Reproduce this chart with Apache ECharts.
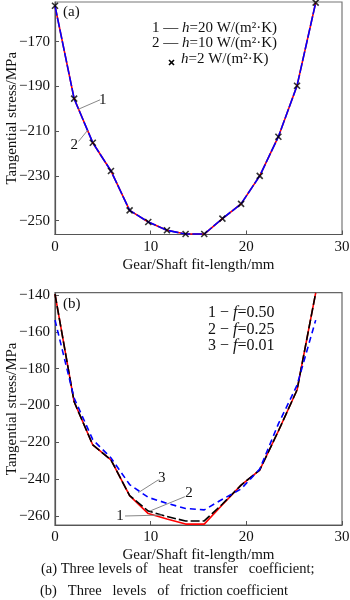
<!DOCTYPE html>
<html>
<head>
<meta charset="utf-8">
<script src="https://cdn.jsdelivr.net/npm/echarts@6/dist/echarts.min.js"></script>
<style>
html, body { margin: 0; padding: 0; background: #fff; }
#chart { width: 350px; height: 600px; }
</style>
</head>
<body>
<div id="chart"></div>
<script>
// (a) tangential stress along the fit length for three heat transfer coefficients
const fitLengthA = [0, 2.0, 3.95, 5.85, 7.8, 9.75, 11.7, 13.65, 15.6, 17.5, 19.45, 21.4, 23.35, 25.3, 27.25];
const stressH20 = [-154, -195.5, -215.2, -227.8, -245.4, -250.6, -254.3, -256, -256, -249.1, -242.5, -230, -212.5, -189.7, -152.6];
const stressH10 = [-154, -195.5, -215.2, -227.8, -245.4, -250.6, -254.3, -256, -256, -249.1, -242.5, -230, -212.5, -189.7, -152.6];
const stressH2  = [-154, -195.5, -215.2, -227.8, -245.4, -250.6, -254.3, -256, -256, -249.1, -242.5, -230, -212.5, -189.7, -152.6];

// (b) tangential stress along the fit length for three friction coefficients
const fitLengthB = [0, 2.0, 3.95, 5.85, 7.8, 9.75, 11.7, 13.65, 15.6, 17.5, 19.45, 21.4, 23.35, 25.3, 27.25];
const stressF050 = [-139.5, -198, -221.5, -229.6, -249, -258.8, -261.7, -264.5, -264.5, -254, -243.3, -235.1, -213.9, -191.6, -138.8];
const stressF025 = [-139.5, -198, -221.5, -229.6, -249, -257.4, -260.4, -262.8, -262.8, -253.6, -243.3, -235.1, -213.9, -191.6, -138.8];
const stressF001 = [-153.6, -196, -218.6, -228.5, -243, -250, -253.2, -256, -256.8, -251, -245.4, -234.6, -210, -189, -153.6];

// axis ticks
const xTicks = [0, 10, 20, 30];
const yTicksA = [-250, -230, -210, -190, -170];
const yTicksB = [-260, -240, -220, -200, -180, -160, -140];

// numbered callouts: text anchor and leader line, in data coordinates
const calloutsA = [
  { text: '1', at: [5.0, -196.0], from: [2.46, -200.2], to: [4.72, -196.0] },
  { text: '2', at: [2.01, -216.3], from: [3.4, -209.7], to: [2.46, -214.6] }
];
const calloutsB = [
  { text: '3', at: [11.15, -239.6], from: [8.71, -247.4], to: [10.79, -240.5] },
  { text: '2', at: [14.02, -247.8], from: [9.93, -257.4], to: [13.57, -249.6] },
  { text: '1', at: [6.8, -260.1], from: [11.18, -259.6], to: [7.32, -260.1] }
];

const FONT = '"Liberation Serif", "Times New Roman", serif';
const INK = '#111';
const AXIS = '#555';

const pairs = (xs, ys) => xs.map((x, i) => [x, ys[i]]);
const minus = v => String(v).replace('-', '\u2212');

function xAxisCfg(gridIndex) {
  return {
    type: 'value', gridIndex, min: 0, max: 30, interval: 10,
    axisLine: { show: true, lineStyle: { color: AXIS, width: 1.2 } },
    axisTick: { show: true, inside: true, length: 4, lineStyle: { color: AXIS } },
    axisLabel: { fontFamily: FONT, fontSize: 15, color: INK, margin: 5,
      customValues: xTicks },
    splitLine: { show: false },
    name: 'Gear/Shaft fit-length/mm', nameLocation: 'middle', nameGap: 23, nameMoveOverlap: false,
    nameTextStyle: { fontFamily: FONT, fontSize: 15, color: INK }
  };
}
function yAxisCfg(gridIndex, min, max, ticks) {
  return {
    type: 'value', gridIndex, min, max,
    axisLine: { show: true, lineStyle: { color: AXIS, width: 1.2 } },
    axisTick: { show: true, inside: true, length: 4, lineStyle: { color: AXIS }, customValues: ticks },
    axisLabel: { fontFamily: FONT, fontSize: 15, color: INK, margin: 5,
      customValues: ticks, formatter: minus },
    splitLine: { show: false },
    name: 'Tangential stress/MPa', nameLocation: 'middle', nameGap: 35, nameMoveOverlap: false,
    nameTextStyle: { fontFamily: FONT, fontSize: 15, color: INK }
  };
}
function callout(list) {
  return {
    markLine: {
      silent: true, symbol: ['none', 'none'], animation: false,
      lineStyle: { color: '#888', width: 1, type: 'solid' },
      label: { show: false },
      data: list.map(c => [{ coord: c.from }, { coord: c.to }])
    },
    markPoint: {
      silent: true, symbol: 'circle', symbolSize: 0, animation: false,
      itemStyle: { color: 'transparent' },
      label: { show: true, position: 'inside', formatter: '{b}',
        fontFamily: FONT, fontSize: 15, color: INK },
      data: list.map(c => ({ name: c.text, coord: c.at }))
    }
  };
}

const cross = 'path://M0,0L10,10M10,0L0,10';
const italic = { i: { fontFamily: FONT, fontSize: 15, fontStyle: 'italic', fill: INK } };
const italic16 = { i: { fontFamily: FONT, fontSize: 16, fontStyle: 'italic', fill: INK } };

const option = {
  animation: false,
  backgroundColor: '#fff',
  grid: [
    { left: 55, right: 8, top: 2, height: 232.5, show: true, borderColor: '#777', borderWidth: 1.2,
      containLabel: false, outerBoundsMode: 'none' },
    { left: 55, right: 8, top: 292.7, height: 232.3, show: true, borderColor: '#666', borderWidth: 1.2,
      containLabel: false, outerBoundsMode: 'none' }
  ],
  xAxis: [xAxisCfg(0), xAxisCfg(1)],
  yAxis: [yAxisCfg(0, -256.2, -152.3, yTicksA), yAxisCfg(1, -265, -138.7, yTicksB)],
  series: [
    // (a)
    { name: 'h=20', type: 'line', xAxisIndex: 0, yAxisIndex: 0, data: pairs(fitLengthA, stressH20),
      symbol: 'none', z: 2, lineStyle: { color: '#ff0000', width: 1.6 } },
    Object.assign({ name: 'h=10', type: 'line', xAxisIndex: 0, yAxisIndex: 0, data: pairs(fitLengthA, stressH10),
      symbol: 'none', z: 3, lineStyle: { color: '#0000ff', width: 1.6, type: [10, 2] } }, callout(calloutsA)),
    { name: 'h=2', type: 'scatter', xAxisIndex: 0, yAxisIndex: 0, data: pairs(fitLengthA, stressH2),
      symbol: cross, symbolSize: 6, z: 4,
      itemStyle: { color: 'transparent', borderColor: '#000', borderWidth: 1.6 } },
    // (b)
    { name: 'f=0.50', type: 'line', xAxisIndex: 1, yAxisIndex: 1, data: pairs(fitLengthB, stressF050),
      symbol: 'none', z: 2, lineStyle: { color: '#ff0000', width: 1.6 } },
    Object.assign({ name: 'f=0.25', type: 'line', xAxisIndex: 1, yAxisIndex: 1, data: pairs(fitLengthB, stressF025),
      symbol: 'none', z: 3, lineStyle: { color: '#000', width: 1.6, type: [9, 3] } }, callout(calloutsB)),
    { name: 'f=0.01', type: 'line', xAxisIndex: 1, yAxisIndex: 1, data: pairs(fitLengthB, stressF001),
      symbol: 'none', z: 4, lineStyle: { color: '#0000ff', width: 1.6, type: [6, 4] } }
  ],
  graphic: [
    // panel tags
    { type: 'text', left: 63, top: 5, style: { text: '(a)', fontFamily: FONT, fontSize: 15, fill: INK } },
    { type: 'text', left: 63, top: 297, style: { text: '(b)', fontFamily: FONT, fontSize: 15, fill: INK } },
    // key (a)
    { type: 'text', left: 152, top: 21, style: { text: '1 \u2014', fontFamily: FONT, fontSize: 15, fill: INK } },
    { type: 'text', left: 152, top: 36, style: { text: '2 \u2014', fontFamily: FONT, fontSize: 15, fill: INK } },
    { type: 'text', left: 182, top: 21, style: { text: '{i|h}=20 W/(m\u00b2\u00b7K)', fontFamily: FONT, fontSize: 15, fill: INK, rich: italic } },
    { type: 'text', left: 182, top: 36, style: { text: '{i|h}=10 W/(m\u00b2\u00b7K)', fontFamily: FONT, fontSize: 15, fill: INK, rich: italic } },
    { type: 'text', left: 181, top: 52, style: { text: '{i|h}=2 W/(m\u00b2\u00b7K)', fontFamily: FONT, fontSize: 15, fill: INK, rich: italic } },
    { type: 'group', left: 166.5, top: 57.5, children: [
      { type: 'line', shape: { x1: 0, y1: 0, x2: 5, y2: 5 }, style: { stroke: '#000', lineWidth: 1.6 } },
      { type: 'line', shape: { x1: 5, y1: 0, x2: 0, y2: 5 }, style: { stroke: '#000', lineWidth: 1.6 } }
    ] },
    // key (b)
    { type: 'text', left: 208, top: 305, style: { text: '1 \u2212 {i|f}=0.50', fontFamily: FONT, fontSize: 16, fill: INK, rich: italic16 } },
    { type: 'text', left: 208, top: 322, style: { text: '2 \u2212 {i|f}=0.25', fontFamily: FONT, fontSize: 16, fill: INK, rich: italic16 } },
    { type: 'text', left: 208, top: 338, style: { text: '3 \u2212 {i|f}=0.01', fontFamily: FONT, fontSize: 16, fill: INK, rich: italic16 } },
    // captions
    { type: 'text', left: 41, top: 562, style: { text: '(a) Three levels of   heat   transfer   coefficient;',
      fontFamily: FONT, fontSize: 14.5, fill: INK } },
    { type: 'text', left: 40, top: 584, style: { text: '(b)   Three   levels   of   friction coefficient',
      fontFamily: FONT, fontSize: 14.5, fill: INK } }
  ]
};

const chart = echarts.init(document.getElementById('chart'), null, { renderer: 'canvas' });
chart.setOption(option);
</script>
</body>
</html>
